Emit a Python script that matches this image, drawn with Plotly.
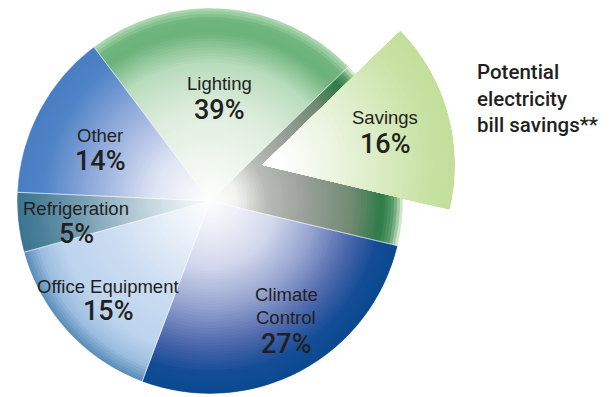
import plotly.graph_objects as go
import numpy as np

# ---- data ----
labels = ["Lighting", "Climate Control", "Office Equipment", "Refrigeration", "Other"]
shares = [39, 27, 15, 5, 14]
savings_label = "Savings"
savings_share = 16
side_note = "Potential<br>electricity<br>bill savings**"

# ---- geometry / style ----
W, H = 612, 397                    # window size
OFF = 8                            # page body margin pushes the figure down/right
FW, FH = W - OFF, H - OFF          # figure size that fills the window
CX, CY, R = 210, 201, 193          # pie centre (px in window) and radius
TIP_X, TIP_Y = 262, 165            # where the pulled-out wedge has its point
START = -37                        # first slice starts here (deg clockwise from 12)
N_LAYERS = 64
FONT = "Liberation Sans, Arial, sans-serif"
NUM_FONT = "Roboto, Liberation Sans, Arial, sans-serif"
INK = "#231f20"


def px(x, y):
    # window pixel -> paper coordinates
    return (x - OFF) / FW, 1 - (y - OFF) / FH


# colour stops (radius fraction, colour) for each slice, outermost first
stops = {
    "Lighting": [(1.0, "#a9d6ad"), (0.95, "#6fb57d"), (0.88, "#6cb37b"), (0.72, "#b9dcbd"),
                 (0.5, "#dcecdb"), (0.25, "#eef6ed"), (0.0, "#ffffff")],
    "slot": [(1.0, "#cfe6c8"), (0.96, "#5e9d6d"), (0.9, "#2d7b47"), (0.75, "#6f8a72"),
             (0.5, "#9ba19a"), (0.3, "#b9bcb7"), (0.15, "#f2f3f1"), (0.0, "#ffffff")],
    "Climate Control": [(1.0, "#0b4a92"), (0.9, "#134c95"), (0.75, "#4e68ac"), (0.55, "#98a5d1"),
                        (0.35, "#d2d7ec"), (0.15, "#eef0f8"), (0.0, "#ffffff")],
    "Office Equipment": [(1.0, "#5d90bb"), (0.92, "#9dbde0"), (0.8, "#bcd4ee"), (0.55, "#cadcf1"),
                         (0.3, "#e3ecf7"), (0.0, "#ffffff")],
    "Refrigeration": [(1.0, "#3b7590"), (0.9, "#4a7f99"), (0.65, "#7ca2b5"), (0.4, "#b4cbd6"),
                      (0.15, "#e5edf1"), (0.0, "#ffffff")],
    "Other": [(1.0, "#4a7ec3"), (0.88, "#4e83c6"), (0.7, "#7e9fd5"), (0.5, "#afc0e4"),
              (0.3, "#dde4f4"), (0.1, "#f6f8fc"), (0.0, "#ffffff")],
    "Savings": [(1.0, "#c3df9b"), (0.85, "#c9e3a6"), (0.6, "#dcedc6"), (0.35, "#eef6e6"),
                (0.1, "#ffffff"), (0.0, "#ffffff")],
}


def hex_rgb(h):
    h = h.lstrip("#")
    return np.array([int(h[i:i + 2], 16) for i in (0, 2, 4)], float)


def colour_at(key, f):
    pts = stops[key]
    for (f1, c1), (f0, c0) in zip(pts[:-1], pts[1:]):
        if f0 <= f <= f1:
            t = 0 if f1 == f0 else (f - f0) / (f1 - f0)
            rgb = hex_rgb(c0) * (1 - t) + hex_rgb(c1) * t
            return "rgb(%d,%d,%d)" % tuple(np.round(rgb))
    return pts[-1][1]


# base pie: lighting is split into the part left behind and the slot of the savings wedge
pie_values = [shares[0] - savings_share, savings_share] + shares[1:]
pie_keys = ["Lighting", "slot"] + labels[1:]
spans = [360 * v / 100 for v in pie_values]
edges = START + np.concatenate([[0], np.cumsum(spans)])
centres = (edges[:-1] + edges[1:]) / 2

# savings wedge angles (same as the slot)
a0, a1 = edges[1], edges[2]
sector = [90 - a1, 90 - a0]
s_lo, s_hi = np.radians(sector)
y_top = max(np.sin(s_lo), np.sin(s_hi), 0)
y_bot = min(np.sin(s_lo), np.sin(s_hi), 0)

fig = go.Figure()
fracs = np.linspace(1.0, 0.02, N_LAYERS)
for f in fracs:
    fig.add_trace(go.Barpolar(
        r=[f] * len(pie_values), theta=centres, width=spans,
        marker=dict(color=[colour_at(k, f) for k in pie_keys], line=dict(width=0)),
        hoverinfo="skip", showlegend=False, subplot="polar",
    ))
# thin light seams between slices
fig.add_trace(go.Barpolar(
    r=[1] * len(pie_values), theta=centres, width=spans,
    marker=dict(color="rgba(0,0,0,0)", line=dict(width=0.8, color="rgba(255,255,255,0.55)")),
    hoverinfo="skip", showlegend=False, subplot="polar",
))
# pulled-out savings wedge, drawn in a second polar sector placed at its tip
for f in fracs:
    fig.add_trace(go.Barpolar(
        r=[f], theta=[(a0 + a1) / 2], width=[a1 - a0],
        marker=dict(color=colour_at("Savings", f), line=dict(width=0)),
        hoverinfo="skip", showlegend=False, subplot="polar2",
    ))

x0, y0 = px(CX - R, CY + R)
x1, y1 = px(CX + R, CY - R)
wx0, wy0 = px(TIP_X, TIP_Y - R * y_bot)
wx1, wy1 = px(TIP_X + R, TIP_Y - R * y_top)
fig.update_layout(
    polar=dict(
        hole=0, bgcolor="rgba(0,0,0,0)", barmode="overlay",
        domain=dict(x=[x0, x1], y=[y0, min(y1, 1)]),
        radialaxis=dict(visible=False, range=[0, 1]),
        angularaxis=dict(visible=False, rotation=90, direction="clockwise"),
    ),
    polar2=dict(
        sector=sector, hole=0, bgcolor="rgba(0,0,0,0)", barmode="overlay",
        domain=dict(x=[wx0, wx1], y=[wy0, wy1]),
        radialaxis=dict(visible=False, range=[0, 1]),
        angularaxis=dict(visible=False, rotation=90, direction="clockwise"),
    ),
)

# ---- labels ----
# name -> (x, y of each label line, y of the percentage)
label_pos = {
    "Lighting": (219, [83], 110),
    "Other": (100, [136], 161),
    "Refrigeration": (76, [208], 234),
    "Office Equipment": (108, [286], 311),
    "Climate Control": (286, [294, 317], 344),
    "Savings": (385, [117], 144),
}
ann = []
names = labels + [savings_label]
vals = shares + [savings_share]
for name, v in zip(names, vals):
    x, line_ys, yb = label_pos[name]
    words = name.split() if len(line_ys) > 1 else [name]
    for word, ya in zip(words, line_ys):
        ax_, ay_ = px(x, ya)
        ann.append(dict(x=ax_, y=ay_, xref="paper", yref="paper", text=word,
                        showarrow=False, font=dict(family=FONT, size=18.5, color=INK),
                        xanchor="center", yanchor="middle"))
    ax_, ay_ = px(x, yb)
    ann.append(dict(x=ax_, y=ay_, xref="paper", yref="paper", text="%d%%" % v,
                    showarrow=False, font=dict(family=NUM_FONT, size=27, color=INK, weight=500),
                    xanchor="center", yanchor="middle"))
sx, sy = px(475, 98)
ann.append(dict(x=sx, y=sy, xref="paper", yref="paper", text=side_note,
                showarrow=False, align="left", xanchor="left", yanchor="middle",
                font=dict(family=NUM_FONT, size=20.5, color=INK, weight=500)))

fig.update_layout(width=FW, height=FH, margin=dict(l=0, r=0, t=0, b=0),
                  paper_bgcolor="white", plot_bgcolor="white", annotations=ann)

fig.write_html("out.html")
